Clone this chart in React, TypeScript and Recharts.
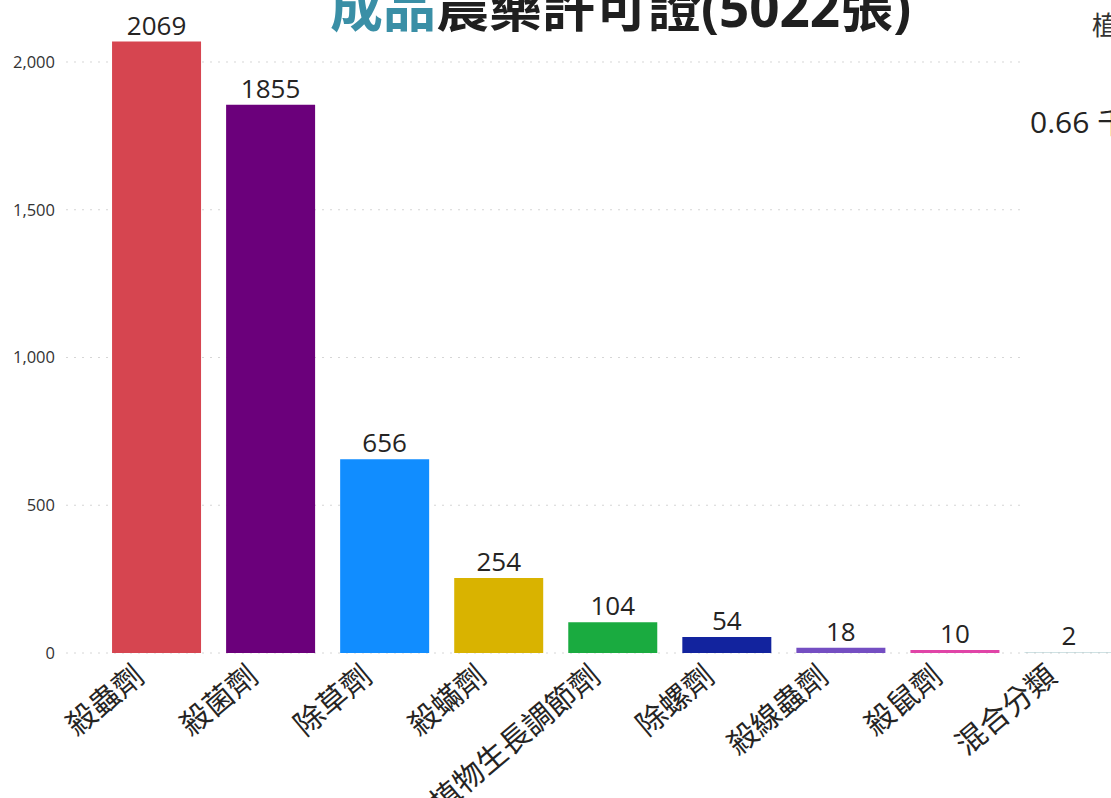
import { BarChart, Bar, XAxis, YAxis, CartesianGrid, Cell, LabelList } from 'recharts'

const categories = ['殺蟲劑', '殺菌劑', '除草劑', '殺蟎劑', '植物生長調節劑', '除螺劑', '殺線蟲劑', '殺鼠劑', '混合分類']
const counts = [2069, 1855, 656, 254, 104, 54, 18, 10, 2]
const barColors = ['#D64550', '#6B007B', '#118DFF', '#D9B300', '#1AAB40', '#12239E', '#744EC2', '#E044A7', '#9FC3C8']
const yTicks = [0, 500, 1000, 1500, 2000]

const data = categories.map((name, i) => ({ name, count: counts[i] }))

const FONT = "'Open Sans', 'Noto Sans CJK TC', sans-serif"

// rotated category label, its top-right corner sits left of the bar centre
function CategoryTick({ x, y, payload }: any) {
  return (
    <g transform={`translate(${x - 26},${y})`}>
      <text
        x={0}
        y={0}
        dy={24}
        textAnchor="end"
        transform="rotate(-40)"
        fontSize={30}
        fill="#252423"
        fontFamily={FONT}
      >
        {payload.value}
      </text>
    </g>
  )
}

export default function App() {
  return (
    <div
      style={{
        position: 'absolute',
        left: 0,
        top: 0,
        width: 1111,
        height: 798,
        overflow: 'hidden',
        background: '#fff',
        fontFamily: FONT,
      }}
    >
      <BarChart
        width={1126}
        height={798}
        data={data}
        margin={{ top: 41.6, right: 0, bottom: 0, left: 0 }}
        barCategoryGap="11%"
      >
        <CartesianGrid vertical={false} syncWithTicks stroke="#d6d6d6" strokeDasharray="2 6" />
        <XAxis
          dataKey="name"
          height={145}
          interval={0}
          axisLine={false}
          tickLine={false}
          tickSize={0}
          tickMargin={8}
          padding={{ left: 33.5, right: 0 }}
          tick={<CategoryTick />}
        />
        <YAxis
          width={66}
          domain={[0, 'dataMax']}
          ticks={yTicks}
          axisLine={false}
          tickLine={false}
          tickSize={0}
          tickMargin={11}
          tick={{ fontSize: 16.5, fill: '#333', fontFamily: FONT }}
          tickFormatter={(v) => v.toLocaleString('en-US')}
        />
        <Bar dataKey="count" isAnimationActive={false}>
          {data.map((d, i) => (
            <Cell key={d.name} fill={barColors[i]} />
          ))}
          <LabelList
            dataKey="count"
            position="top"
            offset={7}
            fontSize={26}
            fill="#252423"
            fontFamily={FONT}
          />
        </Bar>
      </BarChart>

      <div
        style={{
          position: 'absolute',
          left: 330,
          top: -20,
          fontSize: 53,
          fontWeight: 700,
          lineHeight: 1,
          whiteSpace: 'nowrap',
          color: '#1f1f1f',
        }}
      >
        <span style={{ color: '#3A8FA6' }}>成品</span>農藥許可證(5022張)
      </div>

      <div
        style={{
          position: 'absolute',
          left: 1022,
          top: 0,
          width: 89,
          height: 600,
          background: '#fff',
        }}
      >
        <div style={{ position: 'absolute', left: 70, top: 10, fontSize: 26, color: '#333', lineHeight: 1.2, whiteSpace: 'nowrap' }}>
          植
        </div>
        <div style={{ position: 'absolute', left: 8, top: 104, fontSize: 30, color: '#252423', lineHeight: 1.2, whiteSpace: 'nowrap' }}>
          0.66 千
        </div>
      </div>
    </div>
  )
}
